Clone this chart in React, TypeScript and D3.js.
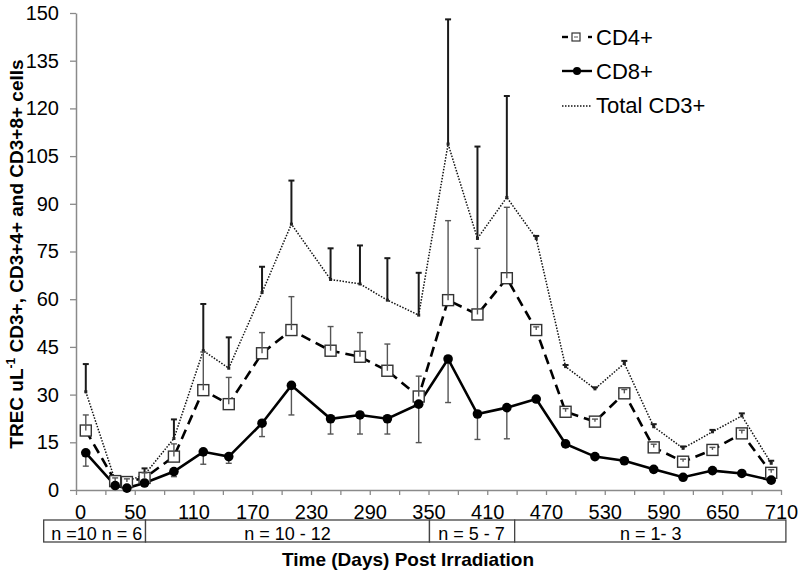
import React, { useEffect, useRef } from 'react';
import * as d3 from 'd3';

// days post irradiation
const days = [0, 30, 42, 60, 90, 120, 146, 180, 210, 250, 280, 308, 340, 370, 400, 430, 460, 490, 520, 550, 580, 610, 640, 670, 700];

const cd4 = [18.7, 2.8, 2.5, 3.8, 10.5, 31.4, 27.0, 43.0, 50.3, 43.8, 41.9, 37.5, 29.4, 59.7, 55.2, 66.6, 50.3, 24.6, 21.5, 30.4, 13.4, 8.9, 12.6, 17.8, 5.4];
const cd4Err = [4.9, 1, 1, 1.6, 4, 12, 8.4, 6.5, 10.5, 7.6, 7.6, 8.4, 6.4, 25, 20.8, 22.3, 1, 1, 0.8, 1.2, 1, 0.8, 0.8, 1, 1];

const cd8 = [11.7, 1.4, 0.6, 2.2, 5.8, 12.0, 10.5, 21.0, 32.9, 22.4, 23.6, 22.4, 27.0, 41.2, 23.9, 25.9, 28.6, 14.5, 10.5, 9.2, 6.5, 4.0, 6.1, 5.2, 3.1];
const cd8Err = [4.2, 0.5, 0.3, 0.5, 1.6, 3.9, 2.1, 4.2, 9.3, 4.8, 6.0, 4.8, 12.1, 13.7, 8.0, 9.8, 0, 0, 0, 0, 0, 0, 0, 0, 0];

const total = [30.9, 3.0, 2.8, 4.8, 16.2, 43.8, 38.3, 62.1, 83.6, 66.2, 64.8, 59.7, 55.0, 108.8, 79.1, 92.0, 79.1, 38.8, 31.8, 39.8, 19.9, 13.1, 18.3, 23.3, 8.4];
const totalErr = [8.7, 0.5, 0.5, 2.0, 6.0, 14.7, 9.7, 8.1, 13.7, 9.8, 12.1, 13.2, 13.3, 39.2, 28.9, 31.9, 0.8, 0.5, 0.5, 0.8, 0.8, 0.6, 0.6, 0.8, 0.8];

const yTicks = [0, 15, 30, 45, 60, 75, 90, 105, 120, 135, 150];
const xMinorTicks = d3.range(-10, 711, 30);
const xLabelTicks = [-10, 50, 110, 170, 230, 290, 350, 410, 470, 530, 590, 650, 710];
const xTickLabels = ['0', '50', '110', '170', '230', '290', '350', '410', '470', '530', '590', '650', '710'];

// sample size boxes under the axis (day boundaries)
const nBoxEdges = [-43, 61, 351, 438, 715];
const nBoxLabels = [
  { day: -12, text: 'n =10' },
  { day: 37, text: 'n = 6' },
  { day: 206, text: 'n = 10 - 12' },
  { day: 394, text: 'n = 5 - 7' },
  { day: 577, text: 'n = 1- 3' },
];

const FONT = "'Liberation Sans', Arial, sans-serif";

export default function App() {
  const svgRef = useRef<SVGSVGElement>(null);

  useEffect(() => {
    if (!svgRef.current) return;
    const svg = d3.select(svgRef.current);
    svg.selectAll('*').remove();

    const x = d3.scaleLinear().domain([-10, 710]).range([76, 781]);
    const y = d3.scaleLinear().domain([0, 150]).range([490, 13]);

    const axisColor = '#8a8a8a';

    // Y axis
    const yAxisG = svg
      .append('g')
      .attr('transform', `translate(${x(-10)},0)`)
      .call(d3.axisLeft(y).tickValues(yTicks).tickSize(6).tickSizeOuter(0).tickPadding(11));
    yAxisG.select('.domain').attr('stroke', axisColor).attr('stroke-width', 1.5);
    yAxisG.selectAll('.tick line').attr('stroke', axisColor).attr('stroke-width', 1.3);
    yAxisG.selectAll('.tick text').attr('font-family', FONT).attr('font-size', 20).attr('fill', '#000');

    // X axis ticks
    const xAxisG = svg
      .append('g')
      .attr('transform', `translate(0,${y(0)})`)
      .call(d3.axisBottom(x).tickValues(xMinorTicks).tickSize(5).tickSizeOuter(0).tickFormat(() => ''));
    xAxisG.select('.domain').attr('stroke', axisColor).attr('stroke-width', 1.5);
    xAxisG.selectAll('.tick line').attr('stroke', axisColor).attr('stroke-width', 1.3);

    // X axis labels
    const xLabelG = svg
      .append('g')
      .attr('transform', `translate(0,${y(0)})`)
      .call(
        d3.axisBottom(x)
          .tickValues(xLabelTicks)
          .tickSize(0)
          .tickPadding(15)
          .tickFormat((_, i) => xTickLabels[i])
      );
    xLabelG.select('.domain').remove();
    xLabelG.selectAll('.tick text')
      .attr('font-family', FONT)
      .attr('font-size', 20)
      .attr('fill', '#000')
      .attr('dx', (_, i) => (i === 0 ? 4 : 0));

    // n boxes
    const boxTop = 520;
    const boxH = 22;
    for (let i = 0; i < nBoxEdges.length - 1; i++) {
      svg
        .append('rect')
        .attr('x', x(nBoxEdges[i]))
        .attr('y', boxTop)
        .attr('width', x(nBoxEdges[i + 1]) - x(nBoxEdges[i]))
        .attr('height', boxH)
        .attr('fill', '#fff')
        .attr('stroke', '#444')
        .attr('stroke-width', 1.3);
    }
    nBoxLabels.forEach(d => {
      svg
        .append('text')
        .attr('x', x(d.day))
        .attr('y', 540)
        .attr('text-anchor', 'middle')
        .attr('font-family', FONT)
        .attr('font-size', 18)
        .text(d.text);
    });

    // axis titles
    svg
      .append('text')
      .attr('x', 408)
      .attr('y', 566)
      .attr('text-anchor', 'middle')
      .attr('font-family', FONT)
      .attr('font-size', 19)
      .attr('font-weight', 'bold')
      .text('Time (Days) Post Irradiation');

    const yTitle = svg
      .append('text')
      .attr('transform', 'translate(23,254) rotate(-90)')
      .attr('text-anchor', 'middle')
      .attr('font-family', FONT)
      .attr('font-size', 19)
      .attr('font-weight', 'bold');
    yTitle.append('tspan').text('TREC uL');
    yTitle.append('tspan').attr('font-size', 12).attr('dy', -8).text('-1');
    yTitle.append('tspan').attr('dy', 8).text(' CD3+, CD3+4+ and CD3+8+ cells');

    const idx = days.map((_, i) => i);

    // lines
    const mkLine = (vals: number[]) =>
      d3.line<number>().x(i => x(days[i])).y(i => y(vals[i]));

    svg.append('path').datum(idx)
      .attr('fill', 'none').attr('stroke', '#111').attr('stroke-width', 1.5)
      .attr('stroke-dasharray', '1.5,1.5')
      .attr('d', mkLine(total));

    svg.append('path').datum(idx)
      .attr('fill', 'none').attr('stroke', '#000').attr('stroke-width', 2.6)
      .attr('stroke-dasharray', '10,6')
      .attr('d', mkLine(cd4));

    svg.append('path').datum(idx)
      .attr('fill', 'none').attr('stroke', '#000').attr('stroke-width', 2.6)
      .attr('d', mkLine(cd8));

    // error bars
    const errBars = (vals: number[], errs: number[], dir: number, color: string, w: number) => {
      const g = svg.append('g').attr('stroke', color).attr('stroke-width', w);
      idx.forEach(i => {
        if (errs[i] <= 0) return;
        const x0 = x(days[i]);
        const y0 = y(vals[i]);
        const y1 = y(vals[i] + dir * errs[i]);
        g.append('line').attr('x1', x0).attr('x2', x0).attr('y1', y0).attr('y2', y1);
        g.append('line').attr('x1', x0 - 3).attr('x2', x0 + 3).attr('y1', y1).attr('y2', y1);
      });
    };

    errBars(total, totalErr, 1, '#1a1a1a', 2);
    errBars(cd8, cd8Err, -1, '#555', 1.4);

    // total markers
    svg.append('g').selectAll('rect').data(idx).join('rect')
      .attr('x', i => x(days[i]) - 1.5)
      .attr('y', i => y(total[i]) - 1.5)
      .attr('width', 3)
      .attr('height', 3)
      .attr('fill', '#222');

    // CD4 squares
    svg.append('g').selectAll('rect').data(idx).join('rect')
      .attr('x', i => x(days[i]) - 5.5)
      .attr('y', i => y(cd4[i]) - 5.5)
      .attr('width', 11)
      .attr('height', 11)
      .attr('fill', '#fff')
      .attr('stroke', '#333')
      .attr('stroke-width', 1.4);

    errBars(cd4, cd4Err, 1, '#555', 1.4);

    // CD8 circles
    svg.append('g').selectAll('circle').data(idx).join('circle')
      .attr('cx', i => x(days[i]))
      .attr('cy', i => y(cd8[i]))
      .attr('r', 4.8)
      .attr('fill', '#000');

    // legend
    const legend = svg.append('g').attr('font-family', FONT).attr('font-size', 22);
    const lx0 = 562;
    const lx1 = 592;
    // CD4+
    legend.append('line').attr('x1', lx0).attr('x2', lx0 + 6).attr('y1', 37).attr('y2', 37)
      .attr('stroke', '#000').attr('stroke-width', 2.4);
    legend.append('line').attr('x1', lx1 - 4).attr('x2', lx1).attr('y1', 37).attr('y2', 37)
      .attr('stroke', '#000').attr('stroke-width', 2.4);
    legend.append('rect').attr('x', 572).attr('y', 33).attr('width', 8).attr('height', 8)
      .attr('fill', '#fff').attr('stroke', '#333').attr('stroke-width', 1.2);
    legend.append('line').attr('x1', 574).attr('x2', 578).attr('y1', 37).attr('y2', 37)
      .attr('stroke', '#555').attr('stroke-width', 1);
    legend.append('text').attr('x', 596).attr('y', 45).text('CD4+');
    // CD8+
    legend.append('line').attr('x1', lx0).attr('x2', lx1).attr('y1', 71).attr('y2', 71)
      .attr('stroke', '#000').attr('stroke-width', 2.4);
    legend.append('circle').attr('cx', 577).attr('cy', 71).attr('r', 4).attr('fill', '#000');
    legend.append('text').attr('x', 596).attr('y', 79).text('CD8+');
    // Total
    legend.append('line').attr('x1', lx0).attr('x2', lx1).attr('y1', 106).attr('y2', 106)
      .attr('stroke', '#111').attr('stroke-width', 1.3).attr('stroke-dasharray', '1.5,1.5');
    legend.append('text').attr('x', 596).attr('y', 113).text('Total CD3+');
  }, []);

  return (
    <div style={{ position: 'absolute', left: 0, top: 0, background: '#fff' }}>
      <svg ref={svgRef} width={800} height={574} style={{ display: 'block' }} />
    </div>
  );
}
